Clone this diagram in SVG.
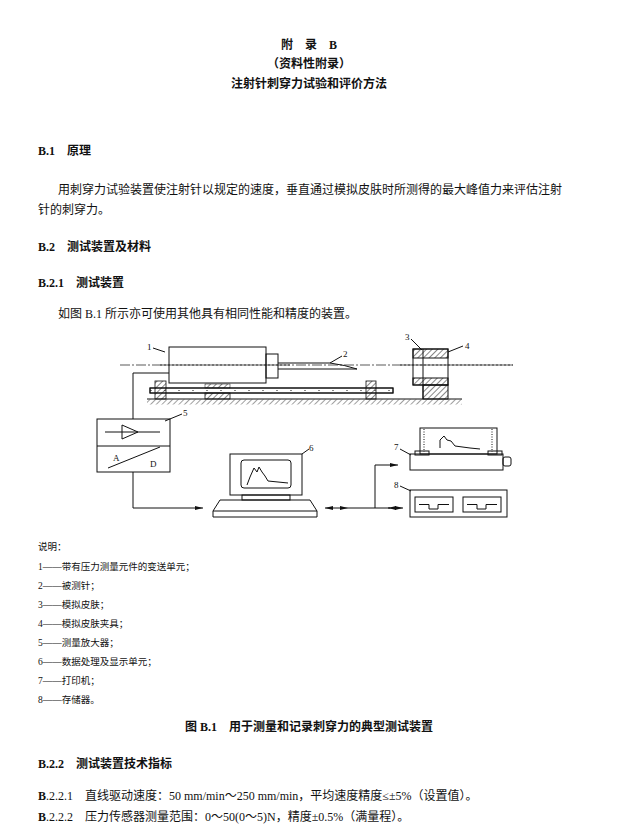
<svg xmlns="http://www.w3.org/2000/svg" width="618" height="834" viewBox="0 0 618 834">
<style>
text{font-family:"Liberation Serif","Noto Sans CJK SC",serif;fill:#111}
.h{font-weight:bold;font-size:12px}
.b{font-size:12px}
.s{font-size:9.5px}
.l{font-size:9px;font-family:"Liberation Serif",serif}
.ln{fill:none;stroke:#111;stroke-width:1}
.c{fill:none;stroke:#111;stroke-width:0.7;stroke-dasharray:10,2,2,2}
</style>
<defs>
<pattern id="hat" width="4" height="4" patternUnits="userSpaceOnUse" patternTransform="rotate(45)"><line x1="0" y1="0" x2="0" y2="4" stroke="#111" stroke-width="1"/></pattern>
<marker id="ar" markerWidth="8" markerHeight="6" refX="8" refY="3" orient="auto-start-reverse" markerUnits="userSpaceOnUse"><path d="M0,1 L8,3 L0,5 Z" fill="#111"/></marker>
</defs>
<rect width="618" height="834" fill="#fff"/>
<text x="309" y="49" text-anchor="middle" class="h">附　录　B</text>
<text x="309" y="68" text-anchor="middle" class="h">（资料性附录）</text>
<text x="309" y="88" text-anchor="middle" class="h">注射针刺穿力试验和评价方法</text>
<text x="38" y="155" class="h">B.1　原理</text>
<text x="58" y="194" class="b">用刺穿力试验装置使注射针以规定的速度，垂直通过模拟皮肤时所测得的最大峰值力来评估注射</text>
<text x="38" y="214" class="b">针的刺穿力。</text>
<text x="38" y="251" class="h">B.2　测试装置及材料</text>
<text x="38" y="287" class="h">B.2.1　测试装置</text>
<text x="58" y="318" class="b">如图 B.1 所示亦可使用其他具有相同性能和精度的装置。</text>

<g id="connectors">
<line class="c" x1="120" y1="365" x2="513" y2="365"/>
<polyline class="ln" points="169,373 133,373 133,419"/>
<polyline class="ln" points="133,472 133,508 203,508" marker-end="url(#ar)"/>
<line class="ln" x1="325" y1="508" x2="348" y2="508" marker-start="url(#ar)" marker-end="url(#ar)"/>
<line class="ln" x1="348" y1="508" x2="375" y2="508"/>
<polyline class="ln" points="375,508 375,465 398,465" marker-end="url(#ar)"/>
<line class="ln" x1="375" y1="508" x2="390" y2="508"/>
<line class="ln" x1="388" y1="508" x2="403" y2="508" marker-start="url(#ar)" marker-end="url(#ar)"/>
</g>

<g id="node1">
<rect class="ln" x="169" y="347" width="97" height="36" fill="#fff"/>
<rect class="ln" x="266" y="354" width="12" height="24" fill="#fff"/>
<line class="c" x1="160" y1="365" x2="290" y2="365"/>
<line class="ln" x1="153" y1="348" x2="165" y2="352" stroke-width="0.7"/>
<text x="147" y="350" class="l">1</text>
</g>
<g id="node2">
<path class="ln" d="M278,363 L330,363 Q345,365 357,369 L278,369"/>
<line class="ln" x1="330" y1="363" x2="342" y2="356" stroke-width="0.7"/>
<text x="343" y="357" class="l">2</text>
</g>
<g id="rail">
<rect class="ln" x="150" y="388" width="243" height="5"/>
<line x1="150" y1="390.5" x2="393" y2="390.5" stroke="#111" stroke-width="0.5" stroke-dasharray="2,12"/>
<rect x="155" y="381" width="11" height="18" fill="url(#hat)" stroke="#111" stroke-width="0.8"/>
<rect x="366" y="381" width="10" height="18" fill="url(#hat)" stroke="#111" stroke-width="0.8"/>
<rect x="205" y="393" width="25" height="6" fill="url(#hat)" stroke="#111" stroke-width="0.8"/>
<rect x="205" y="384" width="25" height="4" fill="url(#hat)" stroke="#111" stroke-width="0.5"/>
<rect class="ln" x="150" y="388" width="243" height="5"/>
<line class="ln" x1="147" y1="399" x2="462" y2="399"/>
<rect x="147" y="399.5" width="315" height="5" fill="url(#hat)" opacity="0.8"/>
</g>
<g id="node3_4">
<rect class="ln" x="413" y="349" width="35" height="36" fill="#fff"/>
<rect x="413" y="349" width="35" height="9" fill="url(#hat)" stroke="#111"/>
<rect x="413" y="378" width="35" height="7" fill="url(#hat)" stroke="#111"/>
<rect x="423" y="385" width="25" height="14" fill="url(#hat)" stroke="#111"/>
<line class="ln" x1="423" y1="349" x2="423" y2="399"/>
<line class="c" x1="400" y1="365" x2="513" y2="365"/>
<line class="ln" x1="411" y1="339" x2="422" y2="350" stroke-width="0.7"/>
<text x="405" y="340" class="l">3</text>
<line class="ln" x1="448" y1="352" x2="463" y2="346" stroke-width="0.7"/>
<text x="465" y="349" class="l">4</text>
</g>
<g id="node5">
<rect class="ln" x="97" y="419" width="73" height="53" fill="#fff"/>
<line class="ln" x1="97" y1="446" x2="170" y2="446"/>
<line class="ln" x1="105" y1="432" x2="160" y2="432"/>
<polygon class="ln" points="122,425 138,432 122,439" fill="#fff"/>
<line class="ln" x1="108" y1="468" x2="160" y2="447"/>
<text x="113" y="461" class="l">A</text>
<text x="150" y="467" class="l">D</text>
<line class="ln" x1="165" y1="421" x2="182" y2="414" stroke-width="0.7"/>
<text x="183" y="416" class="l">5</text>
</g>
<g id="node6">
<rect class="ln" x="230" y="454" width="72" height="41" fill="#fff"/>
<rect class="ln" x="241" y="460" width="50" height="28" rx="3"/>
<path class="ln" d="M247,485 L250,477 L254,468 L257,472 L259,467 L262,472 L265,476 L268,481 L278,482 L288,483" stroke-width="0.7"/>
<rect class="ln" x="242" y="495" width="48" height="5"/>
<path class="ln" d="M220,500 L310,500 L317,511 L317,517 L213,517 L213,511 Z" fill="#fff"/>
<line class="ln" x1="213" y1="511" x2="317" y2="511"/>
<line class="ln" x1="302" y1="454" x2="309" y2="449" stroke-width="0.7"/>
<text x="309" y="451" class="l">6</text>
</g>
<g id="node7">
<rect class="ln" x="420" y="428" width="77" height="26" fill="#fff"/>
<line x1="424" y1="429" x2="424" y2="452" stroke="#111" stroke-dasharray="1,1.5"/>
<line x1="492" y1="429" x2="492" y2="452" stroke="#111" stroke-dasharray="1,1.5"/>
<path class="ln" d="M440,448 L440,440 L444,436 L447,440 L451,441 L455,446 L470,448 L480,449" stroke-width="0.7"/>
<rect class="ln" x="410" y="454" width="93" height="16" fill="#fff"/>
<rect class="ln" x="415" y="451" width="14" height="4" fill="#fff"/>
<rect class="ln" x="488" y="451" width="14" height="4" fill="#fff"/>
<rect class="ln" x="503" y="457" width="8" height="9" rx="2" fill="#fff"/>
<line class="ln" x1="400" y1="449" x2="411" y2="455" stroke-width="0.7"/>
<text x="394" y="450" class="l">7</text>
</g>
<g id="node8">
<rect class="ln" x="410" y="490" width="97" height="27" fill="#fff"/>
<rect class="ln" x="415" y="497" width="38" height="15"/>
<rect class="ln" x="463" y="497" width="38" height="15"/>
<polyline class="ln" points="419,504.5 429,504.5 429,509 438,509 438,504.5 449,504.5" stroke-width="0.7"/>
<polyline class="ln" points="467,504.5 477,504.5 477,509 486,509 486,504.5 497,504.5" stroke-width="0.7"/>
<line class="ln" x1="400" y1="486" x2="411" y2="491" stroke-width="0.7"/>
<text x="394" y="488" class="l">8</text>
</g>

<g class="s">
<text x="38" y="550" class="s">说明：</text>
<text x="38" y="570" class="s">1——带有压力测量元件的变送单元；</text>
<text x="38" y="589" class="s">2——被测针；</text>
<text x="38" y="608" class="s">3——模拟皮肤；</text>
<text x="38" y="627" class="s">4——模拟皮肤夹具；</text>
<text x="38" y="646" class="s">5——测量放大器；</text>
<text x="38" y="665" class="s">6——数据处理及显示单元；</text>
<text x="38" y="684" class="s">7——打印机；</text>
<text x="38" y="703" class="s">8——存储器。</text>
</g>
<text x="309" y="731" text-anchor="middle" class="h">图 B.1　用于测量和记录刺穿力的典型测试装置</text>
<text x="38" y="768" class="h">B.2.2　测试装置技术指标</text>
<text x="38" y="800" class="b"><tspan font-weight="bold">B</tspan>.2.2.1　直线驱动速度：50 mm/min～250 mm/min，平均速度精度≤±5%（设置值）。</text>
<text x="38" y="821" class="b"><tspan font-weight="bold">B</tspan>.2.2.2　压力传感器测量范围：0～50(0～5)N，精度±0.5%（满量程）。</text>
</svg>
